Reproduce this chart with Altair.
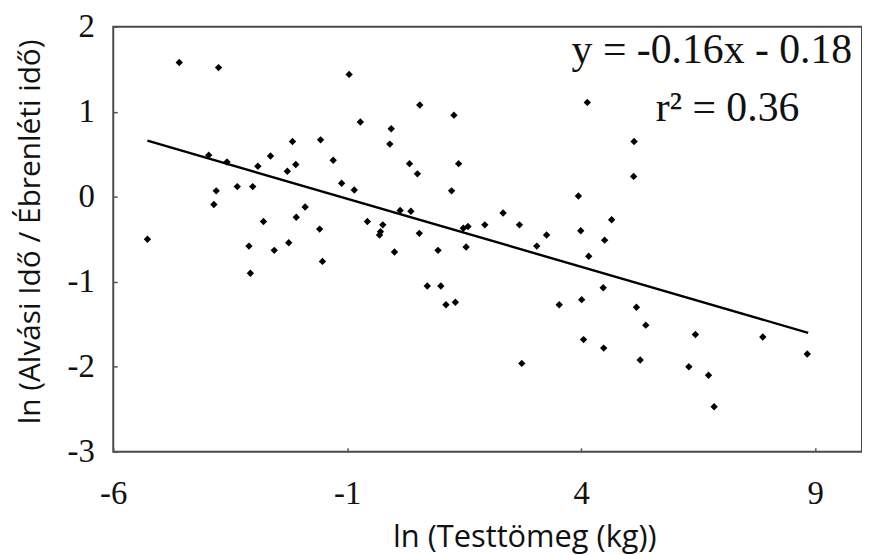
import altair as alt
import pandas as pd

# scatter values
x_vals = [-4.59, -3.75, -0.96, -0.72, -0.06, -0.09, -3.96, -3.57, -2.17, -1.57,
          -2.64, -2.91, -2.10, -2.28, -1.30, -3.80, -3.35, -3.02, -1.12, -0.85,
          -3.85, -1.90, -2.79, -2.09, -1.59, -0.57, -0.24, -0.29, -0.31, 0.01,
          -3.10, -2.56, -2.25, -1.53, -3.07, -5.27,
          0.55, 1.28, 0.33, 1.38, 0.50, 1.23, 0.13, 0.36, 2.33, 0.54,
          1.58, 1.48, 1.94, 2.68, 3.26, 3.05, 3.94, 3.99, 4.65, 4.50,
          4.16, 4.13, 0.94, 1.54, 0.71, 1.00, 1.11, 1.31, 3.53, 4.01,
          4.47, 5.13, 5.12, 5.18, 5.38, 6.44, 7.88, 8.83, 4.05, 4.48,
          2.73, 5.26, 6.30, 6.72, 6.84]
y_vals = [1.58, 1.52, 1.44, 0.88, 0.80, 0.62, 0.49, 0.41, 0.65, 0.67,
          0.48, 0.36, 0.38, 0.30, 0.43, 0.07, 0.12, 0.12, 0.16, 0.08,
          -0.09, -0.12, -0.29, -0.24, -0.38, -0.29, -0.33, -0.41, -0.45, -0.65,
          -0.58, -0.63, -0.54, -0.76, -0.90, -0.50,
          1.08, 0.96, 0.39, 0.39, 0.27, 0.07, -0.16, -0.17, -0.19, -0.43,
          -0.35, -0.37, -0.33, -0.33, -0.45, -0.58, 0.01, -0.40, -0.27, -0.51,
          -0.70, 1.11, -0.63, -0.59, -1.05, -1.05, -1.27, -1.24, -1.27, -1.21,
          -1.07, 0.65, 0.24, -1.30, -1.51, -1.62, -1.65, -1.85, -1.68, -1.78,
          -1.96, -1.92, -2.00, -2.10, -2.47]

# regression line end points (y = -0.16x - 0.18)
line_x = [-5.27, 8.85]
line_y = [0.66, -1.60]

x_ticks = [-6, -1, 4, 9]
y_ticks = [-3, -2, -1, 0, 1, 2]

eq_label = ["y = -0.16x - 0.18"]
eq_x = [9.79]
eq_y = [1.57]
r2_label = ["r² = 0.36"]
r2_x = [5.59]
r2_y = [0.89]

rows = []
rows += [{"x": a, "y": b, "kind": "pt", "t": ""} for a, b in zip(x_vals, y_vals)]
rows += [{"x": a, "y": b, "kind": "line", "t": ""} for a, b in zip(line_x, line_y)]
rows += [{"x": a, "y": b, "kind": "eq", "t": s} for a, b, s in zip(eq_x, eq_y, eq_label)]
rows += [{"x": a, "y": b, "kind": "r2", "t": s} for a, b, s in zip(r2_x, r2_y, r2_label)]
df = pd.DataFrame(rows)

xscale = alt.Scale(domain=[-6, 10], nice=False, zero=False)
yscale = alt.Scale(domain=[-3, 2], nice=False, zero=False)

hyphen_label = "datum.value < 0 ? '-' + abs(datum.value) : '' + datum.value"

xaxis = alt.Axis(
    values=x_ticks, title="ln (Testtömeg (kg))", grid=False, domain=False,
    offset=-4, ticks=True, tickSize=4, tickWidth=1.5, tickColor="#555",
    labelExpr=hyphen_label,
    labelFont="Liberation Serif", labelFontSize=33, labelColor="#111",
    labelPadding=26, labelFlush=False, labelOverlap=False,
    titleFont="Open Sans", titleFontSize=31, titleFontWeight="normal",
    titleColor="#111", titleX=414, titleY=99, titleBaseline="alphabetic",
    titleAlign="center",
)
yaxis = alt.Axis(
    values=y_ticks, title="ln (Alvási Idő / Ébrenléti idő)", grid=False, domain=False,
    offset=-4, ticks=True, tickSize=4, tickWidth=1.5, tickColor="#555",
    labelExpr=hyphen_label,
    labelFont="Liberation Serif", labelFontSize=33, labelColor="#111",
    labelPadding=19, labelFlush=False, labelOverlap=False,
    titleFont="Open Sans", titleFontSize=30, titleFontWeight="normal",
    titleColor="#111", titleX=-78, titleY=206, titleAngle=270,
    titleBaseline="alphabetic", titleAlign="center",
)

base = alt.Chart(df).encode(
    x=alt.X("x:Q", scale=xscale, axis=xaxis),
    y=alt.Y("y:Q", scale=yscale, axis=yaxis),
)

points = base.transform_filter(alt.datum.kind == "pt").mark_point(
    shape="diamond", filled=True, color="black", size=55, opacity=1
)
line = base.transform_filter(alt.datum.kind == "line").mark_line(
    color="black", strokeWidth=2.4
)
eq_text = base.transform_filter(alt.datum.kind == "eq").mark_text(
    font="Liberation Serif", fontSize=42, align="right", baseline="alphabetic",
    color="#111"
).encode(text="t:N")
r2_text = base.transform_filter(alt.datum.kind == "r2").mark_text(
    font="Liberation Serif", fontSize=42, align="left", baseline="alphabetic",
    color="#111"
).encode(text="t:N")

chart = alt.layer(points, line, eq_text, r2_text).properties(
    width=754, height=428,
    background="white",
    autosize=alt.AutoSizeParams(type="none"),
    padding={"left": 106, "top": 17, "right": 0, "bottom": 102},
).configure_view(
    stroke="#4a4a4a", strokeWidth=2
).configure_axis(
    labelFont="Liberation Serif", labelFontSize=33, labelColor="#111",
    titleFont="Open Sans", titleFontWeight="normal", titleColor="#111",
)

chart.save("out.html", embed_options={"renderer": "svg", "actions": False})
